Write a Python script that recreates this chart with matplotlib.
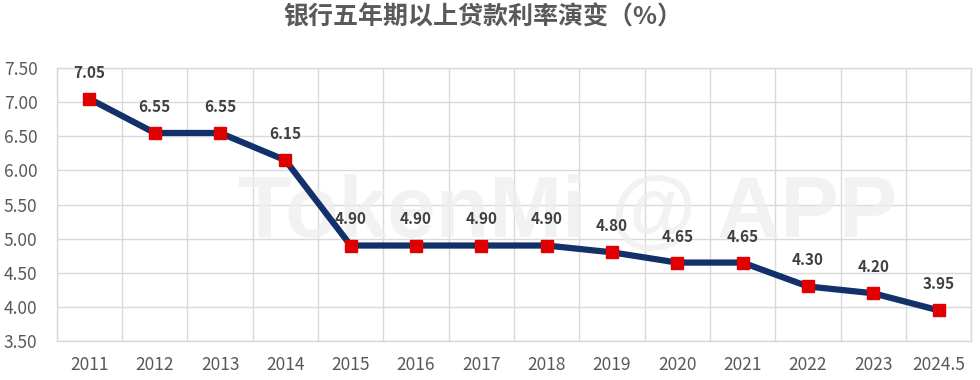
import matplotlib.pyplot as plt
import numpy as np

plt.rcParams['font.family'] = ['Noto Sans CJK SC', 'DejaVu Sans']

# 数据
years = ["2011", "2012", "2013", "2014", "2015", "2016", "2017",
         "2018", "2019", "2020", "2021", "2022", "2023", "2024.5"]
rates = [7.05, 6.55, 6.55, 6.15, 4.90, 4.90, 4.90,
         4.90, 4.80, 4.65, 4.65, 4.30, 4.20, 3.95]
yticks = [3.50, 4.00, 4.50, 5.00, 5.50, 6.00, 6.50, 7.00, 7.50]

fig = plt.figure(figsize=(9.8, 3.8), dpi=100)
ax = fig.add_axes([0.058, 0.1026, 0.933, 0.718])

x = np.arange(len(years))

# faint watermark over the grid, under the line
ax.text(0.559, 0.381, "TokenMi @ APP", transform=ax.transAxes, fontsize=63,
        fontweight="bold", family="Liberation Sans", color="#eeeeee", alpha=0.75,
        ha="center", va="baseline", zorder=2)

ax.plot(x, rates, color="#12306a", linewidth=4.5, zorder=3)
ax.plot(x, rates, linestyle="none", marker="s", markersize=8,
        markerfacecolor="#e00000", markeredgecolor="#e00000", zorder=4)

for xi, v in zip(x, rates):
    ax.annotate(f"{v:.2f}", (xi, v), xytext=(0, 13), textcoords="offset points",
                ha="center", va="bottom", fontsize=11, fontweight="bold",
                color="#404040", zorder=5)

ax.set_xlim(-0.5, len(years) - 0.5)
ax.set_ylim(3.5, 7.5)
ax.set_yticks(yticks)
ax.set_yticklabels([f"{t:.2f}" for t in yticks])
ax.set_xticks(x)
ax.set_xticklabels(years)

# gridlines on category boundaries
ax.set_xticks(np.arange(-0.5, len(years)), minor=True)
ax.grid(True, which="minor", axis="x", color="#d9d9d9", linewidth=1)
ax.grid(True, which="major", axis="y", color="#d9d9d9", linewidth=1)
ax.tick_params(axis="both", which="both", length=0, labelsize=12.5,
               labelcolor="#595959")
ax.tick_params(axis="y", pad=14)
ax.tick_params(axis="x", pad=11)
for s in ax.spines.values():
    s.set_color("#d9d9d9")
    s.set_linewidth(1)
ax.set_facecolor("none")
ax.set_axisbelow(True)

fig.suptitle("银行五年期以上贷款利率演变（%）", x=0.493, y=0.985, va="top",
             fontsize=18, fontweight="bold", color="#595959")

fig.savefig("out.png", dpi=100)
